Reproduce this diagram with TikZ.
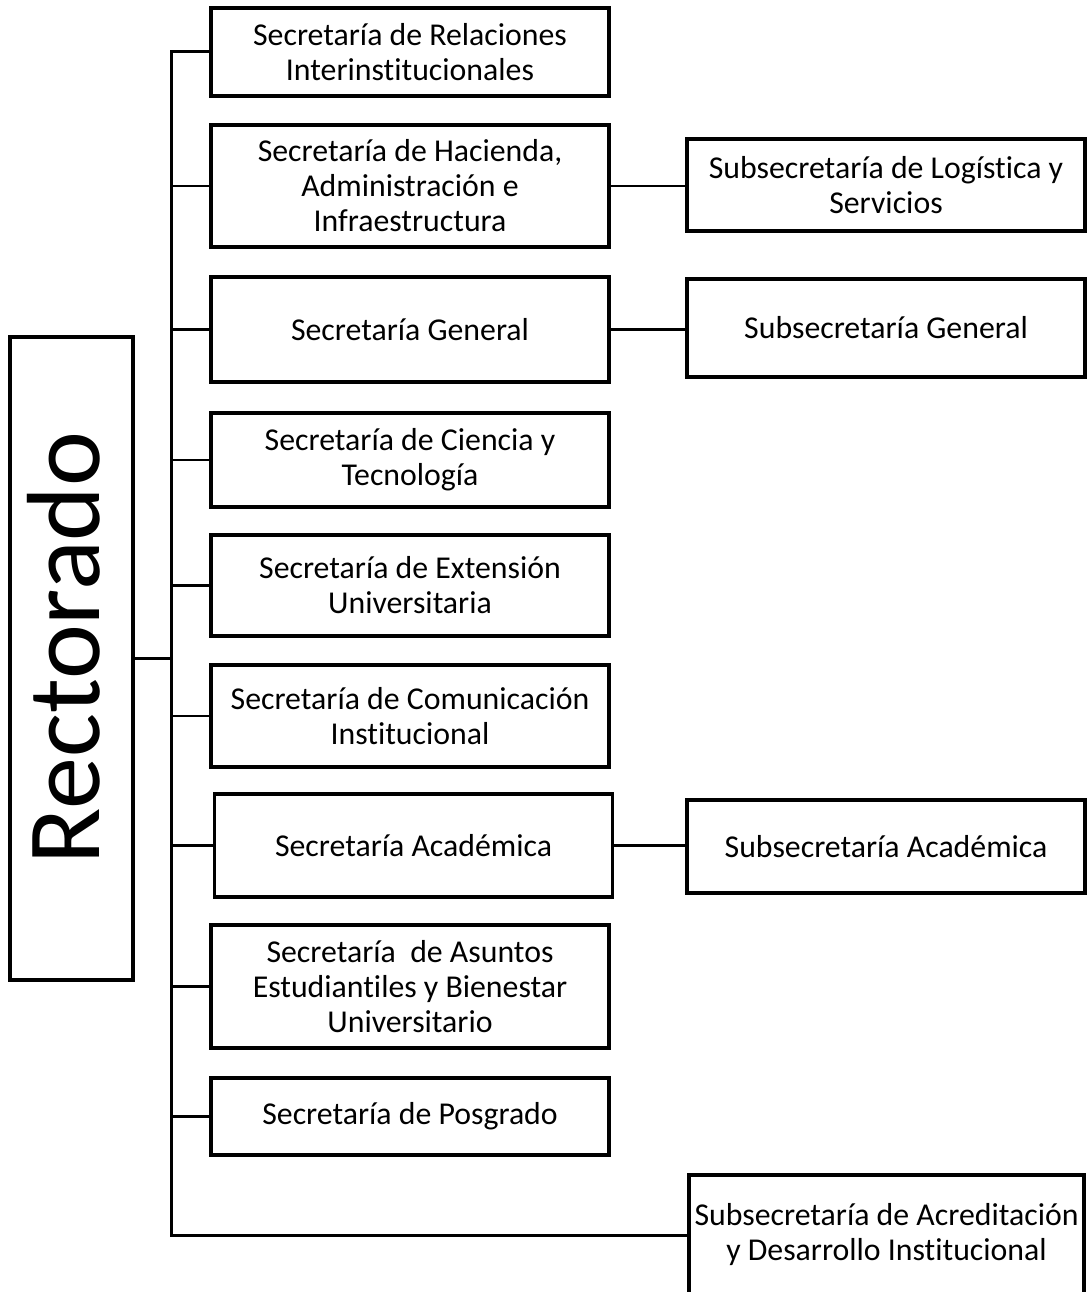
\documentclass[tikz,border=0pt]{standalone}
\usepackage{fontspec}
\setmainfont{Carlito}[Ligatures={NoCommon}]
\begin{document}
\begin{tikzpicture}[x=1pt,y=-1pt,
  box/.style={draw=black, line width=3.6pt, fill=white, inner sep=0pt, align=center,
    font=\fontsize{31.8}{35}\selectfont, minimum width=398pt},
  conn/.style={draw=black, line width=2.6pt},
  trunkline/.style={draw=black, line width=3pt}]
\useasboundingbox (0,0) rectangle (1089,1292);
\clip (0,0) rectangle (1089,1292);
\fill[white] (0,0) rectangle (1089,1292);
% Rectorado
\node[draw=black, line width=3.6pt, inner sep=0pt, minimum width=123pt, minimum height=643pt] (R) at (71.5,658.5) {};
\node[rotate=90, inner sep=0pt, font=\fontsize{104}{110}\selectfont] (rtext) at (64,648) {Rectorado};
% left column
\node[box, minimum height=88pt] (b1) at (410,52) {Secretaría de Relaciones\\Interinstitucionales};
\node[box, minimum height=122pt] (b2) at (410,186) {Secretaría de Hacienda,\\Administración e\\Infraestructura};
\node[box, minimum height=105pt] (b3) at (410,329.5) {Secretaría General};
\node[box, minimum height=94pt] (b4) at (410,460) {Secretaría de Ciencia y\\Tecnología};
\node[box, minimum height=101pt] (b5) at (410,585.5) {Secretaría de Extensión\\Universitaria};
\node[box, minimum height=102pt] (b6) at (410,716) {Secretaría de Comunicación\\Institucional};
\node[box, minimum height=103pt] (b7) at (413.5,845.5) {Secretaría Académica};
\node[box, minimum height=123pt] (b8) at (410,986.5) {Secretaría~ de Asuntos\\Estudiantiles y Bienestar\\Universitario};
\node[box, minimum height=77pt] (b9) at (410,1116.5) {Secretaría de Posgrado};
% right column
\node[box, minimum height=92pt] (s1) at (886,185) {Subsecretaría de Logística y\\Servicios};
\node[box, minimum height=98pt] (s2) at (886,328) {Subsecretaría General};
\node[box, minimum height=93pt] (s3) at (886,846.5) {Subsecretaría Académica};
\node[box, minimum width=395pt, minimum height=120pt] (s4) at (886.5,1235) {Subsecretaría de Acreditación\\y Desarrollo Institucional};
% trunk
\coordinate (ttop) at (171,51);
\coordinate (tbot) at (171,1235);
\draw[trunkline] (b1.west) -- (b1.west -| ttop) -- (tbot) -- (s4.west);
\draw[conn] (R.east) -- (R.east -| ttop);
\foreach \n in {b2,b3,b4,b5,b6,b7,b8,b9}{
  \draw[conn] (\n.west) -- (\n.west -| ttop);
}
\draw[conn] (b2.east) -- (b2.east -| s1.west);
\draw[conn] (b3.east) -- (b3.east -| s2.west);
\draw[conn] (b7.east) -- (b7.east -| s3.west);
\end{tikzpicture}
\end{document}
